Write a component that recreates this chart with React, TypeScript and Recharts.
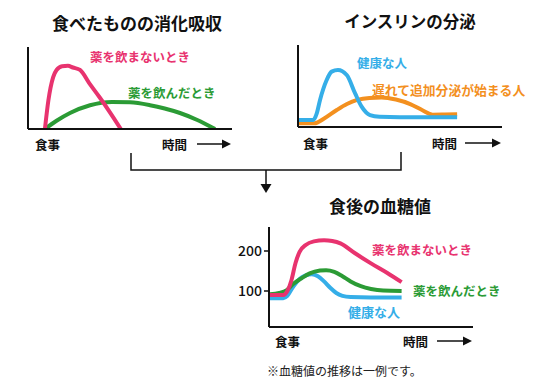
import React from 'react';
import { LineChart, Line, XAxis, YAxis } from 'recharts';

// 食べたものの消化吸収 (time 0-100, amount 0-100)
const digestNoMedT = [8.3, 10, 12.3, 14, 16.7, 19.6, 22, 25.5, 30, 35, 40, 45.5];
const digestNoMedV = [0, 35, 63, 72, 76.5, 77, 75, 72, 56, 39, 21, 0];
const digestMedT = [8.3, 14, 20.6, 30.4, 41.2, 50, 59.8, 67, 74.5, 83, 91.7];
const digestMedV = [0, 10, 19.5, 29, 33, 32.5, 29, 25, 19.5, 11, 0];

// インスリンの分泌
const insHealthyT = [0, 7.4, 9.2, 10.8, 14, 16.5, 19.6, 23.9, 28, 31.2, 35.3, 40, 50, 78];
const insHealthyV = [8.5, 8.5, 16.7, 33, 57, 67.5, 69.5, 63.4, 41, 24.8, 14.6, 12.6, 12, 12];
const insDelayedT = [0, 8, 13, 19, 24, 29, 35, 41, 48, 55, 61, 66, 72, 78];
const insDelayedV = [4.5, 4.5, 10.6, 20.7, 28, 33, 35.5, 36, 33.5, 28, 20.5, 15, 15.2, 15.5];

// 食後の血糖値
const gluNoMedT = [0.5, 7, 9, 11, 13, 15, 18, 22, 27, 31, 35, 42, 50, 58, 65];
const gluNoMedV = [90, 90, 100, 127, 170, 198, 215, 224, 227, 225, 219, 195, 169, 145, 122];
const gluMedT = [0.5, 5, 8.7, 12, 16, 20, 25, 28, 32, 36, 40, 45, 50, 56, 65];
const gluMedV = [92, 95, 102, 118, 132, 144, 151, 152, 148, 137, 124, 112, 105, 101, 100];
const gluHealthyT = [0.5, 7, 9, 12, 15, 18, 21, 24, 27, 30, 33, 36, 40, 50, 65];
const gluHealthyV = [82, 82, 88, 112, 130, 139, 142, 137, 124, 108, 95, 88, 85, 84, 84];
const gluTicks = [100, 200];

const PINK = '#e8336f';
const GREEN = '#2b9b35';
const BLUE = '#35aee8';
const ORANGE = '#f3901f';
const FONT = '"Noto Sans CJK JP", "Noto Sans", sans-serif';

type Series = { t: number[]; v: number[]; color: string; name: string };

// one table for the chart, each series in its own column (gaps are bridged)
const merge = (series: Series[]) => {
	const rows: any[] = [];
	series.forEach((s) => s.t.forEach((t, i) => rows.push({ t, [s.name]: s.v[i] })));
	return rows.sort((a, b) => a.t - b.t);
};

function Panel(props: {
	left: number;
	top: number;
	width: number;
	height: number;
	margin: any;
	yDomain: number[];
	yTicks?: number[];
	series: Series[];
}) {
	const { left, top, width, height, margin, yDomain, yTicks, series } = props;
	return (
		<div style={{ position: 'absolute', left, top }}>
			<LineChart width={width} height={height} margin={margin} data={merge(series)}>
				<XAxis
					type="number"
					dataKey="t"
					domain={[0, 100]}
					allowDataOverflow
					height={1}
					tick={false}
					tickLine={false}
					axisLine={{ stroke: '#111', strokeWidth: 2 }}
				/>
				<YAxis
					type="number"
					domain={yDomain}
					allowDataOverflow
					width={1}
					ticks={yTicks}
					tick={yTicks ? { fill: '#111', fontSize: 14, fontFamily: FONT, fontWeight: 500 } : false}
					tickLine={yTicks ? { stroke: '#111', strokeWidth: 1.5 } : false}
					tickSize={5}
					tickMargin={2}
					axisLine={{ stroke: '#111', strokeWidth: 2 }}
				/>
				{series.map((s) => (
					<Line
						key={s.name}
						dataKey={s.name}
						type="monotone"
						stroke={s.color}
						strokeWidth={4}
						dot={false}
						connectNulls
						isAnimationActive={false}
					/>
				))}
			</LineChart>
		</div>
	);
}

const Arrow = ({ x1, x2, y }: { x1: number; x2: number; y: number }) => (
	<g>
		<line x1={x1} y1={y} x2={x2 - 6} y2={y} stroke="#111" strokeWidth={1.5} />
		<polygon points={`${x2 - 9},${y - 4.5} ${x2},${y} ${x2 - 9},${y + 4.5}`} fill="#111" />
	</g>
);

const T = (p: { x: number; y: number; c?: string; s?: number; w?: number; a?: string; children: string }) => (
	<text
		x={p.x}
		y={p.y}
		fill={p.c || '#111'}
		fontSize={p.s || 12.5}
		fontWeight={p.w || 700}
		fontFamily={FONT}
		textAnchor={p.a || 'start'}
		dominantBaseline="central"
	>
		{p.children}
	</text>
);

export default function App() {
	return (
		<div style={{ position: 'relative', width: 535, height: 380, background: '#fff' }}>
			<style>{'body{margin:0}'}</style>
			<Panel
				left={0}
				top={0}
				width={260}
				height={160}
				margin={{ left: 27, top: 47, right: 28, bottom: 30 }}
				yDomain={[0, 100]}
				series={[
					{ t: digestMedT, v: digestMedV, color: GREEN, name: 'med' },
					{ t: digestNoMedT, v: digestNoMedV, color: PINK, name: 'nomed' },
				]}
			/>
			<Panel
				left={270}
				top={0}
				width={260}
				height={160}
				margin={{ left: 27, top: 45, right: 28, bottom: 32 }}
				yDomain={[0, 100]}
				series={[
					{ t: insDelayedT, v: insDelayedV, color: ORANGE, name: 'delayed' },
					{ t: insHealthyT, v: insHealthyV, color: BLUE, name: 'healthy' },
				]}
			/>
			<Panel
				left={220}
				top={180}
				width={300}
				height={200}
				margin={{ left: 48, top: 47, right: 47, bottom: 52 }}
				yDomain={[10, 260]}
				yTicks={gluTicks}
				series={[
					{ t: gluHealthyT, v: gluHealthyV, color: BLUE, name: 'healthy' },
					{ t: gluMedT, v: gluMedV, color: GREEN, name: 'med' },
					{ t: gluNoMedT, v: gluNoMedV, color: PINK, name: 'nomed' },
				]}
			/>
			<svg
				width={535}
				height={380}
				style={{ position: 'absolute', left: 0, top: 0, pointerEvents: 'none' }}
			>
				<T x={137} y={22} s={17} a="middle">食べたものの消化吸収</T>
				<T x={90} y={56} c={PINK}>薬を飲まないとき</T>
				<T x={128} y={92} c={GREEN}>薬を飲んだとき</T>
				<T x={35} y={144}>食事</T>
				<T x={162} y={144}>時間</T>
				<Arrow x1={197} x2={231} y={144} />

				<T x={410} y={21} s={16.5} a="middle">インスリンの分泌</T>
				<T x={357} y={62} c={BLUE}>健康な人</T>
				<T x={372} y={89} c={ORANGE} s={12.8}>遅れて追加分泌が始まる人</T>
				<T x={303} y={143}>食事</T>
				<T x={432} y={143}>時間</T>
				<Arrow x1={465} x2={501} y={143} />

				<path d="M131 153 V170 H401 V152" fill="none" stroke="#111" strokeWidth={1.5} />
				<line x1={266} y1={170} x2={266} y2={185} stroke="#111" strokeWidth={1.5} />
				<polygon points="260.5,184 271.5,184 266,193" fill="#111" />

				<T x={380} y={205} s={17} a="middle">食後の血糖値</T>
				<T x={372} y={249} c={PINK}>薬を飲まないとき</T>
				<T x={413} y={290} c={GREEN}>薬を飲んだとき</T>
				<T x={348} y={311} c={BLUE} s={13}>健康な人</T>
				<T x={275} y={341}>食事</T>
				<T x={403} y={341}>時間</T>
				<Arrow x1={437} x2={472} y={341} />
				<T x={267} y={370} s={12} w={400} c="#222">※血糖値の推移は一例です。</T>
			</svg>
		</div>
	);
}
